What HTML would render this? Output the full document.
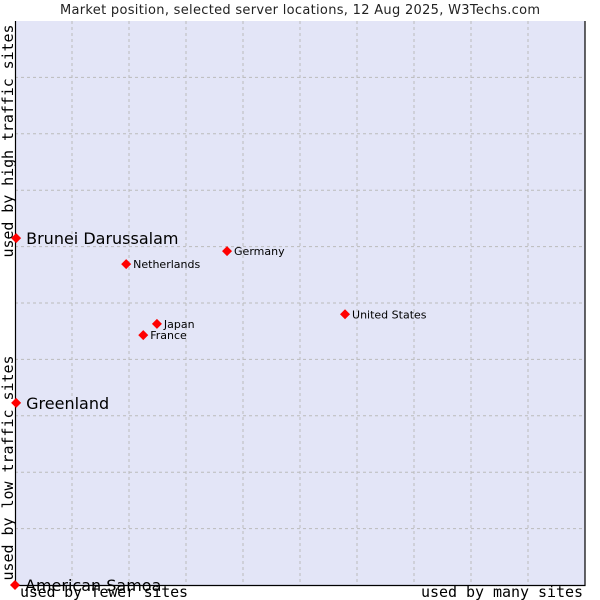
<!DOCTYPE html>
<html><head><meta charset="utf-8"><style>
body{margin:0;background:#fff;}
svg{display:block;font-family:"DejaVu Sans","Liberation Sans",sans-serif;}
</style></head><body>
<svg id="chart" width="600" height="600">
<text x="300" y="14" text-anchor="middle" font-size="13" textLength="480" fill="#222">Market position, selected server locations, 12 Aug 2025, W3Techs.com</text>
<rect x="15" y="21" width="570" height="564" fill="#e3e5f7"/>
<g id="grid"></g>
<path d="M15.5 21 V585.5 H585 V21" fill="none" stroke="#000" stroke-width="1.2"/>
<text transform="translate(13,141) rotate(-90)" text-anchor="middle" font-family="DejaVu Sans Mono,Liberation Mono,monospace" font-size="15" textLength="233">used by high traffic sites</text>
<text transform="translate(13,468) rotate(-90)" text-anchor="middle" font-family="DejaVu Sans Mono,Liberation Mono,monospace" font-size="15" textLength="225">used by low traffic sites</text>
<text x="20" y="597" font-family="DejaVu Sans Mono,Liberation Mono,monospace" font-size="15" textLength="168">used by fewer sites</text>
<text x="583" y="597" text-anchor="end" font-family="DejaVu Sans Mono,Liberation Mono,monospace" font-size="15" textLength="162">used by many sites</text>
<g id="points"></g>
</svg>
<script>
const countries=["Brunei Darussalam","Greenland","American Samoa","Germany","Netherlands","United States","Japan","France"];
const xValues=[0.2,0.2,0,37.2,19.5,57.9,24.9,22.5];
const yValues=[61.5,32.3,0,59.2,56.9,48.0,46.3,44.3];
const bigLabel=[true,true,true,false,false,false,false,false];
const L=15,R=585,T=21,B=585;
const sx=v=>L+v/100*(R-L), sy=v=>B-v/100*(B-T);
const NS="http://www.w3.org/2000/svg";
const grid=document.getElementById('grid');
for(let i=1;i<10;i++){
 const v=document.createElementNS(NS,'line');
 v.setAttribute('x1',sx(i*10));v.setAttribute('x2',sx(i*10));v.setAttribute('y1',T);v.setAttribute('y2',B);
 v.setAttribute('stroke','#bbb');v.setAttribute('stroke-dasharray','3,3');
 
 
 grid.appendChild(v);
 const h=document.createElementNS(NS,'line');
 h.setAttribute('y1',sy(i*10));h.setAttribute('y2',sy(i*10));h.setAttribute('x1',L);h.setAttribute('x2',R);
 h.setAttribute('stroke','#bbb');h.setAttribute('stroke-dasharray','3,3');
 
 
 grid.appendChild(h);
}
const pts=document.getElementById('points');
countries.forEach((c,i)=>{
 const x=sx(xValues[i]),y=sy(yValues[i]);
 const g=document.createElementNS(NS,'g');
 
 
 const d=document.createElementNS(NS,'path');
 d.setAttribute('d',`M${x} ${y-5}L${x+5} ${y}L${x} ${y+5}L${x-5} ${y}Z`);
 d.setAttribute('fill','#f00');
 g.appendChild(d);
 const t=document.createElementNS(NS,'text');
 t.setAttribute('x',x+(bigLabel[i]?10:7));
 t.setAttribute('y',y+(bigLabel[i]?6:4));
 t.setAttribute('font-size',bigLabel[i]?16:11);
 t.textContent=c;
 
 
 g.appendChild(t);
 pts.appendChild(g);
});
</script>
</body></html>
